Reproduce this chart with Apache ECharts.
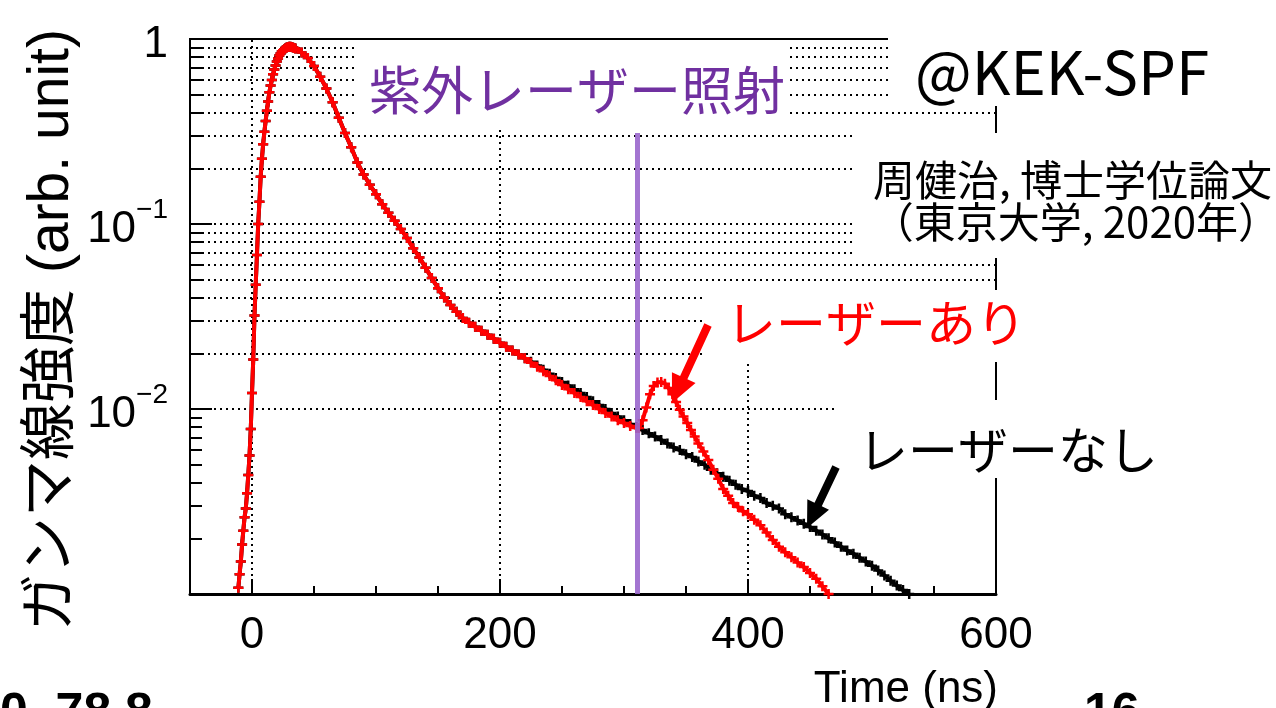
<!DOCTYPE html>
<html><head><meta charset="utf-8">
<script src="https://cdn.jsdelivr.net/npm/echarts@6/dist/echarts.min.js"></script>
<style>html,body{margin:0;padding:0;background:#fff;overflow:hidden}#c{width:1276px;height:708px}</style>
</head><body><div id="c"></div>
<script>
// ---- data ----
const blackTime = [-11,-10,-9,-8,-7,-6,-5,-4,-3,-2,-1,0,1,2,3,4,5,6,7,8,9,10,11,12,13,14,15,16,17,18,19,20,21,22,23,24,25,26,27,28,29,30,31,32,33,34,35,
 40,45,50,55,60,65,70,75,80,85,90,95,100,105,110,115,120,125,130,135,140,145,150,155,160,165,170,175,180,185,190,195,200,
 205,210,215,220,225,230,235,240,245,250,255,260,265,270,275,280,285,290,295,300,305,310,315,320,325,330,335,340,345,350,
 355,360,365,370,375,380,385,390,395,400,405,410,415,420,425,430,435,440,445,450,455,460,465,470,475,480,485,490,495,500,
 505,510,515,520,525,530];
const blackValue = [0.00108,0.00128,0.0015,0.00185,0.0022,0.0026,0.0029,0.0035,0.0044,0.0056,0.0078,0.0122,0.0185,0.032,0.047,0.068,0.1,0.132,0.18,0.225,0.27,0.315,0.36,0.41,0.46,0.515,0.56,0.6,0.645,0.685,0.72,0.755,0.785,0.815,0.835,0.855,0.87,0.88,0.89,0.9,0.905,0.908,0.908,0.906,0.9,0.895,0.888,
 0.845,0.79,0.715,0.625,0.54,0.455,0.375,0.31,0.26,0.215,0.185,0.163,0.145,0.128,0.115,0.104,0.094,0.084,0.074,0.066,0.058,0.051,0.045,0.040,0.0365,0.0335,0.031,0.0293,0.0278,0.0265,0.0252,0.024,0.0228,
 0.0217,0.0207,0.0197,0.0188,0.018,0.0172,0.0163,0.0155,0.0147,0.014,0.0134,0.0128,0.0122,0.0116,0.011,0.0105,0.01,0.0095,0.0091,0.0087,0.0083,0.008,0.0077,0.0074,0.0071,0.0068,0.0065,0.0062,0.006,0.0057,
 0.0055,0.0052,0.005,0.0047,0.0045,0.0043,0.0041,0.0039,0.0037,0.0036,0.0034,0.0033,0.0031,0.003,0.0029,0.0027,0.0026,0.0025,0.0024,0.0023,0.0022,0.0021,0.002,0.0019,0.0018,0.00172,0.00165,0.00157,0.0015,0.00142,
 0.00134,0.00126,0.00118,0.00111,0.00105,0.001];

const redTime = [-11,-10,-9,-8,-7,-6,-5,-4,-3,-2,-1,0,1,2,3,4,5,6,7,8,9,10,11,12,13,14,15,16,17,18,19,20,21,22,23,24,25,26,27,28,29,30,31,32,33,34,35,
 40,45,50,55,60,65,70,75,80,85,90,95,100,105,110,115,120,125,130,135,140,145,150,155,160,165,170,175,180,185,190,195,200,
 205,210,215,220,225,230,235,240,245,250,255,260,265,270,275,280,285,290,295,300,305,310,312,
 315,318,321,324,327,330,333,336,339,342,345,348,351,354,357,360,364,368,372,376,380,384,388,392,396,400,405,410,415,420,425,430,435,440,445,450,455,460,465];
const redValue = [0.00108,0.00128,0.0015,0.00185,0.0022,0.0026,0.0029,0.0035,0.0044,0.0056,0.0078,0.0122,0.0185,0.032,0.047,0.068,0.1,0.132,0.18,0.225,0.27,0.315,0.36,0.41,0.46,0.515,0.56,0.6,0.645,0.685,0.72,0.755,0.785,0.815,0.835,0.855,0.87,0.88,0.89,0.9,0.905,0.908,0.908,0.906,0.9,0.895,0.888,
 0.845,0.79,0.715,0.625,0.54,0.455,0.375,0.31,0.26,0.215,0.185,0.163,0.145,0.128,0.115,0.104,0.094,0.084,0.074,0.066,0.058,0.051,0.045,0.040,0.0365,0.0335,0.031,0.0293,0.0278,0.0265,0.0252,0.024,0.0228,
 0.0217,0.0207,0.0197,0.0188,0.0178,0.0169,0.016,0.0151,0.0143,0.0135,0.0128,0.0122,0.0116,0.011,0.0105,0.01,0.0095,0.0091,0.0087,0.0084,0.0081,0.0079,0.0079,
 0.0087,0.0102,0.012,0.0133,0.0139,0.014,0.0137,0.013,0.012,0.0109,0.0099,0.0091,0.0084,0.0077,0.0071,0.0065,0.0059,0.0053,0.0047,0.0042,0.0037,0.0034,0.0031,0.00295,0.0028,0.0027,0.00252,0.00235,0.00215,0.00196,0.0018,0.00168,0.00158,0.00148,0.0014,0.0013,0.00121,0.0011,0.001];

const xTickLabels = [0, 200, 400, 600];
const yMinorValues = [0.002,0.003,0.004,0.005,0.006,0.007,0.008,0.009,0.02,0.03,0.04,0.05,0.06,0.07,0.08,0.09,0.2,0.3,0.4,0.5,0.6,0.7,0.8,0.9];
const yDecadeGrid = [0.01, 0.1];
const laserTime = 311;
const laserTop = 0.31;

// ---- chart ----
const chart = echarts.init(document.getElementById('c'), null, {renderer: 'canvas'});
const plus = 'path://M3,0H5V3H8V5H5V8H3V5H0V3H3Z';
const latin = '"Liberation Sans", Arial, sans-serif';
const mixed = '"Liberation Sans", "Noto Sans CJK JP", sans-serif';
const cjk = '"Noto Sans CJK JP", sans-serif';
const dotted = {color: '#000', width: 2, type: [2, 4], opacity: 1};
const blackData = blackTime.map((t, i) => [t, blackValue[i]]);
const redData = redTime.map((t, i) => [t, redValue[i]]);
const near = (a, b) => Math.abs(a - b) < b * 1e-6;

function arrow(x1, y1, x2, y2, w, hl, hw, color) {
  const dx = x2 - x1, dy = y2 - y1, L = Math.hypot(dx, dy);
  const ux = dx / L, uy = dy / L, px = -uy, py = ux;
  const bx = x2 - ux * hl, by = y2 - uy * hl;
  return {type: 'polygon', z: 20, shape: {points: [
    [x1 + px * w, y1 + py * w], [bx + px * w, by + py * w], [bx + px * hw, by + py * hw], [x2, y2],
    [bx - px * hw, by - py * hw], [bx - px * w, by - py * w], [x1 - px * w, y1 - py * w]]},
    style: {fill: color}};
}
function whiteBox(x, y, w, h) { return {type: 'rect', z: 3, shape: {x, y, width: w, height: h}, style: {fill: '#fff'}}; }
function txt(text, x, y, size, color, align, family, rot, weight) {
  return {type: 'text', z: 20, x, y, rotation: rot || 0,
    style: {text, fontSize: size, fontFamily: family, fontWeight: weight || 'normal', fill: color, align: align || 'center', verticalAlign: 'middle'}};
}

const option = {
  animation: false,
  backgroundColor: '#fff',
  grid: {left: 190, top: 39, width: 806, height: 555, show: true, borderColor: '#000', borderWidth: 2, backgroundColor: 'transparent'},
  xAxis: [
    {type: 'value', min: -50, max: 600, interval: 50, position: 'bottom',
     axisLine: {show: true, onZero: false, lineStyle: {color: '#000', width: 3}},
     axisTick: {show: true, inside: true, length: 8, lineStyle: {color: '#000', width: 2}},
     axisLabel: {margin: 20, color: '#000', fontSize: 44, fontFamily: latin,
       formatter: v => (xTickLabels.indexOf(v) >= 0 ? String(v) : '')},
     splitLine: {show: false}},
    {type: 'value', min: -50, max: 600, position: 'bottom',
     axisLine: {show: false, onZero: false},
     axisTick: {show: true, inside: true, length: 15, customValues: xTickLabels, lineStyle: {color: '#000', width: 2}},
     axisLabel: {show: false}, splitLine: {show: false}}
  ],
  yAxis: {type: 'log', logBase: 10, min: 0.001, max: 1, position: 'left',
    axisLine: {show: true, onZero: false, lineStyle: {color: '#000', width: 2}},
    axisTick: {show: true, inside: true, length: 22, lineStyle: {color: '#000', width: 2}},
    splitLine: {show: false},
    axisLabel: {margin: 22, color: '#000',
      formatter: v => near(v, 1) ? '{b|1}' : near(v, 0.1) ? '{b|10}{s|−1}' : near(v, 0.01) ? '{b|10}{s|−2}' : '',
      rich: {b: {fontSize: 44, fontFamily: latin, color: '#000', padding: [12, 0, 0, 0]},
             s: {fontSize: 28, fontFamily: latin, color: '#000', verticalAlign: 'top'}}}
  },
  series: [
    {type: 'line', name: 'grid', data: [], silent: true,
     markLine: {z: 1, silent: true, symbol: 'none', animation: false, label: {show: false}, lineStyle: dotted,
       emphasis: {disabled: true},
       data: [
         ...yMinorValues.concat(yDecadeGrid).map(v => ({yAxis: v})),
         {xAxis: 0},
         [{coord: [200, 0.001]}, {coord: [200, 0.33]}],
         [{coord: [400, 0.001]}, {coord: [400, 0.0177]}]
       ]}},
    {type: 'line', name: 'minor ticks', data: [], silent: true,
     markLine: {z: 4, silent: true, symbol: 'none', animation: false, label: {show: false},
       lineStyle: {color: '#000', width: 2, type: 'solid'}, emphasis: {disabled: true},
       data: yMinorValues.map(v => [{coord: [-50, v]}, {coord: [-40.3, v]}])}},
    {type: 'line', name: 'レーザーなし', data: blackData, z: 5, symbol: plus, symbolSize: 10, showSymbol: true,
     lineStyle: {color: '#000', width: 4}, itemStyle: {color: '#000'}, silent: true},
    {type: 'line', name: 'レーザーあり', data: redData, z: 6, symbol: plus, symbolSize: 10, showSymbol: true,
     lineStyle: {color: '#ff0000', width: 4}, itemStyle: {color: '#ff0000'}, silent: true},
    {type: 'line', name: 'laser', data: [], silent: true,
     markLine: {z: 10, silent: true, symbol: 'none', animation: false, label: {show: false},
       lineStyle: {color: '#9966cc', width: 5, type: 'solid', opacity: 0.9}, emphasis: {disabled: true},
       data: [[{coord: [laserTime, 0.001]}, {coord: [laserTime, laserTop]}]]}}
  ],
  graphic: [
    whiteBox(355, 41, 435, 87),
    whiteBox(888, 35, 388, 71),
    whiteBox(855, 133, 421, 125),
    whiteBox(703, 290, 332, 72),
    whiteBox(835, 400, 335, 78),
    txt('ガンマ線強度 (arb. unit)', 52, 330, 57, '#000', 'center', mixed, Math.PI / 2),
    txt('紫外レーザー照射', 577, 90, 52, '#7030a0', 'center', cjk),
    txt('@KEK-SPF', 1062, 72, 60, '#000', 'center', cjk),
    txt('周健治, 博士学位論文', 1272, 180, 42, '#000', 'right', cjk),
    txt('（東京大学, 2020年）', 1280, 222, 42, '#000', 'right', cjk),
    txt('レーザーあり', 876, 323, 50, '#ff0000', 'center', cjk),
    txt('レーザーなし', 1008, 450, 50, '#000', 'center', cjk),
    txt('Time (ns)', 998, 690, 44, '#000', 'right', latin),
    txt('0. 78 8', 0, 714, 50, '#000', 'left', latin, 0, 'bold'),
    txt('16', 1084, 714, 50, '#000', 'left', latin, 0, 'bold'),
    arrow(708, 325, 672, 403, 4, 28, 13, '#ff0000'),
    arrow(836, 467, 807, 528, 4, 26, 12, '#000')
  ]
};
chart.setOption(option);
</script></body></html>
